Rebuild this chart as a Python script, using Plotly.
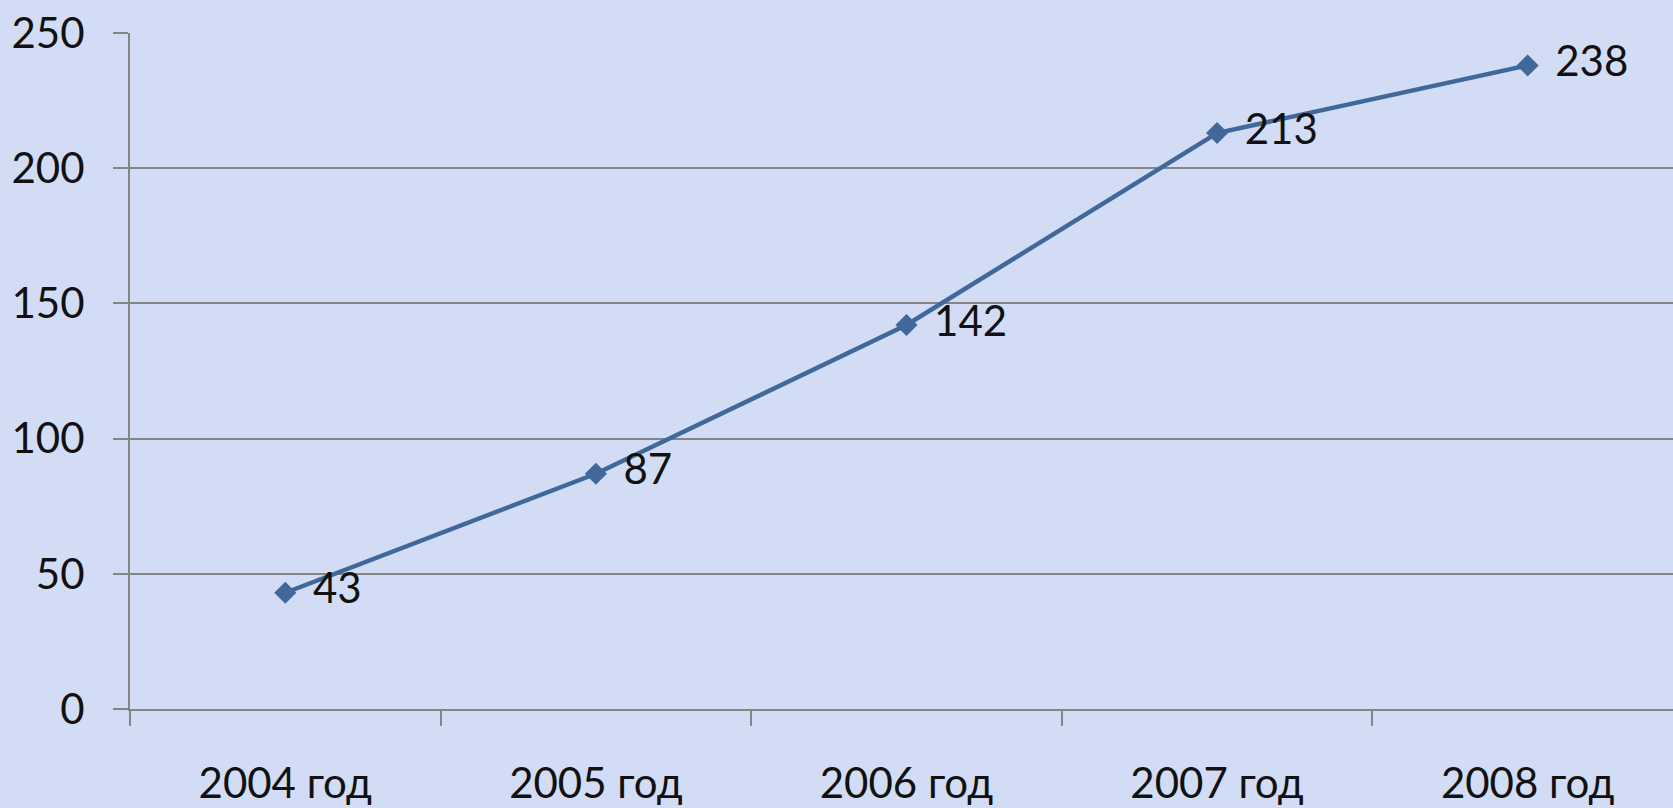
import plotly.graph_objects as go

categories = ["2004 год", "2005 год", "2006 год", "2007 год", "2008 год"]
values = [43, 87, 142, 213, 238]
y_ticks = [0, 50, 100, 150, 200, 250]

FONT = "Lato, 'Open Sans', sans-serif"

fig = go.Figure()
fig.add_trace(go.Scatter(
    x=categories,
    y=values,
    mode="lines+markers+text",
    text=["\u00a0\u2009" + str(v) for v in values],
    textposition="middle right",
    textfont=dict(family=FONT, size=42, color="#111111"),
    line=dict(color="#41689b", width=4.5),
    marker=dict(symbol="diamond", size=17, color="#41689b"),
    cliponaxis=False,
    showlegend=False,
))

fig.update_layout(
    width=1673, height=808,
    margin=dict(l=130, r=0, t=33, b=99),
    paper_bgcolor="#d2dcf4",
    plot_bgcolor="rgba(0,0,0,0)",
    font=dict(family=FONT, size=42, color="#111111"),
    xaxis=dict(
        type="category",
        range=[-0.5, 4.468],
        showgrid=False,
        showline=True, linecolor="#858585", linewidth=2,
        ticks="outside", ticklen=15, tickcolor="#858585", tickwidth=2,
        tickson="boundaries",
        zeroline=False,
        automargin=False,
        ticklabelstandoff=37,
    ),
    yaxis=dict(
        range=[0, 250],
        tickvals=y_ticks,
        showgrid=True, gridcolor="#858585", gridwidth=2,
        showline=True, linecolor="#858585", linewidth=2,
        ticks="outside", ticklen=15, tickcolor="#858585", tickwidth=2,
        zeroline=False,
        automargin=False,
        ticklabelstandoff=20,
    ),
)

fig.write_html(
    "out.html",
    config={"displayModeBar": False},
    post_script="document.body.style.margin='0';document.body.style.overflow='hidden';",
)
